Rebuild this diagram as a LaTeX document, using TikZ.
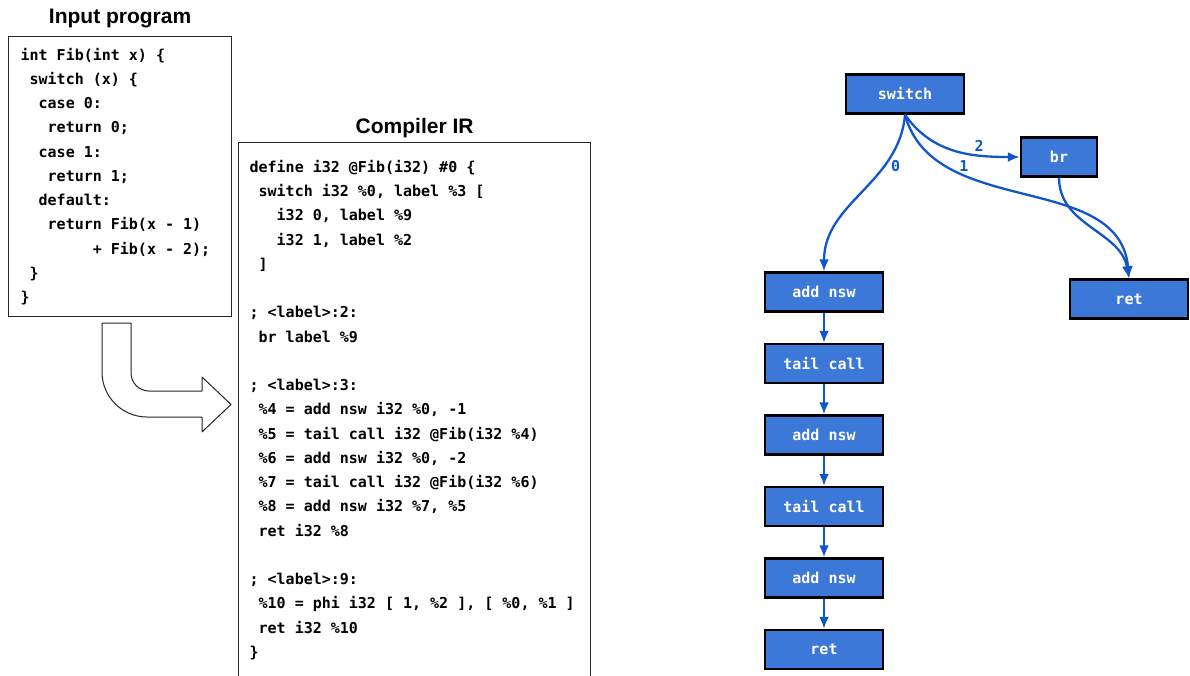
\documentclass[tikz,border=0pt]{standalone}
\usepackage{fontspec}
\setmainfont{Liberation Sans}
\newfontfamily\codefont{DejaVu Sans Mono}
\usetikzlibrary{arrows.meta, positioning}
\definecolor{irblue}{HTML}{3C78D8}
\definecolor{irlink}{HTML}{1155CC}
\newcommand{\ind}[1]{\hspace*{#1\fontcharwd\font`x}}
\newcommand{\fixspaces}{\spaceskip=\fontcharwd\font`x\relax\xspaceskip=\spaceskip}
\tikzset{
  fib/.style={
    x=1pt, y=-1pt,
    >={Latex[length=12pt, width=10pt]},
    node distance=30pt,
  },
  heading/.style={font=\bfseries\fontsize{21}{25}\selectfont, inner sep=0pt},
  listing/.style={
    draw=black!85, line width=1.2pt, anchor=north west, align=left,
    inner xsep=12pt, inner ysep=0pt,
    font=\codefont\fontsize{15}{24.25}\selectfont\bfseries,
  },
  op/.style={
    draw=black, line width=2.5pt, fill=irblue, text=white,
    minimum width=118pt, minimum height=39pt, inner sep=2pt,
    font=\codefont\fontsize{15}{18}\selectfont\bfseries,
  },
  link/.style={->, draw=irlink, line width=2.3pt},
  linklbl/.style={font=\codefont\fontsize{15}{18}\selectfont\bfseries, text=irlink, inner sep=2pt},
  lower/.style={draw=black!85, line width=1pt, fill=white, line join=round},
}

\begin{document}
\begin{tikzpicture}[fib]
  \useasboundingbox (0,0) rectangle (1190,675);

  % source and IR listings
  \node[listing, text width=199pt, minimum height=280pt] (src) at (8,36) {\fixspaces int Fib(int x) \{\\
\ind{1}switch (x) \{\\
\ind{2}case 0:\\
\ind{3}return 0;\\
\ind{2}case 1:\\
\ind{3}return 1;\\
\ind{2}default:\\
\ind{3}return Fib(x - 1)\\
\ind{8}+ Fib(x - 2);\\
\ind{1}\}\\
\}};
  \node[listing, inner xsep=11pt, text width=330pt, minimum height=535pt] (ir) at (238,142) {\fixspaces define i32 @Fib(i32) \#0 \{\\
\ind{1}switch i32 \%0, label \%3 [\\
\ind{3}i32 0, label \%9\\
\ind{3}i32 1, label \%2\\
\ind{1}]\\
\mbox{}\\
; <label>:2:\\
\ind{1}br label \%9\\
\mbox{}\\
; <label>:3:\\
\ind{1}\%4 = add nsw i32 \%0, -1\\
\ind{1}\%5 = tail call i32 @Fib(i32 \%4)\\
\ind{1}\%6 = add nsw i32 \%0, -2\\
\ind{1}\%7 = tail call i32 @Fib(i32 \%6)\\
\ind{1}\%8 = add nsw i32 \%7, \%5\\
\ind{1}ret i32 \%8\\
\mbox{}\\
; <label>:9:\\
\ind{1}\%10 = phi i32 [ 1, \%2 ], [ \%0, \%1 ]\\
\ind{1}ret i32 \%10\\
\}};
  \node[heading, above=8pt of src] (srctitle) {Input program};
  \node[heading, above=4pt of ir] (irtitle) {Compiler IR};

  % lowering arrow
  \draw[lower] (102,323) -- (131,323) -- (131,373) arc[start angle=180, end angle=90, radius=18]
    -- (202,391) -- (202,377) -- (231,404.5) -- (202,432) -- (202,417) -- (147,417)
    arc[start angle=90, end angle=180, radius=45] -- cycle;

  % control flow graph
  \node[op] (sw) at (905,94) {switch};
  \node[op, minimum width=76pt] (br) at (1059,157) {br};
  \node[op] (rt) at (1129,299) {ret};
  \node[op] (add1) at (824,292) {add nsw};
  \node[op, below=of add1] (call1) {tail call};
  \node[op, below=of call1] (add2) {add nsw};
  \node[op, below=of add2] (call2) {tail call};
  \node[op, below=of call2] (add3) {add nsw};
  \node[op, below=of add3] (ret0) {ret};

  \draw[link] (sw.south) to[out=-95, in=90] node[linklbl, pos=0.3, right=3pt] {0} (add1.north);
  \draw[link] (sw.south) to[out=-55, in=180] node[linklbl, pos=0.7, above=1pt] {2} (br.west);
  \draw[link] (sw.south) to[out=-75, in=95] node[linklbl, pos=0.3, above=1pt] {1} (rt.north);
  \draw[link] (br.south) to[out=-90, in=100] (rt.north);
  \foreach \a/\b in {add1/call1, call1/add2, add2/call2, call2/add3, add3/ret0}
    \draw[link] (\a) -- (\b);
\end{tikzpicture}
\end{document}
